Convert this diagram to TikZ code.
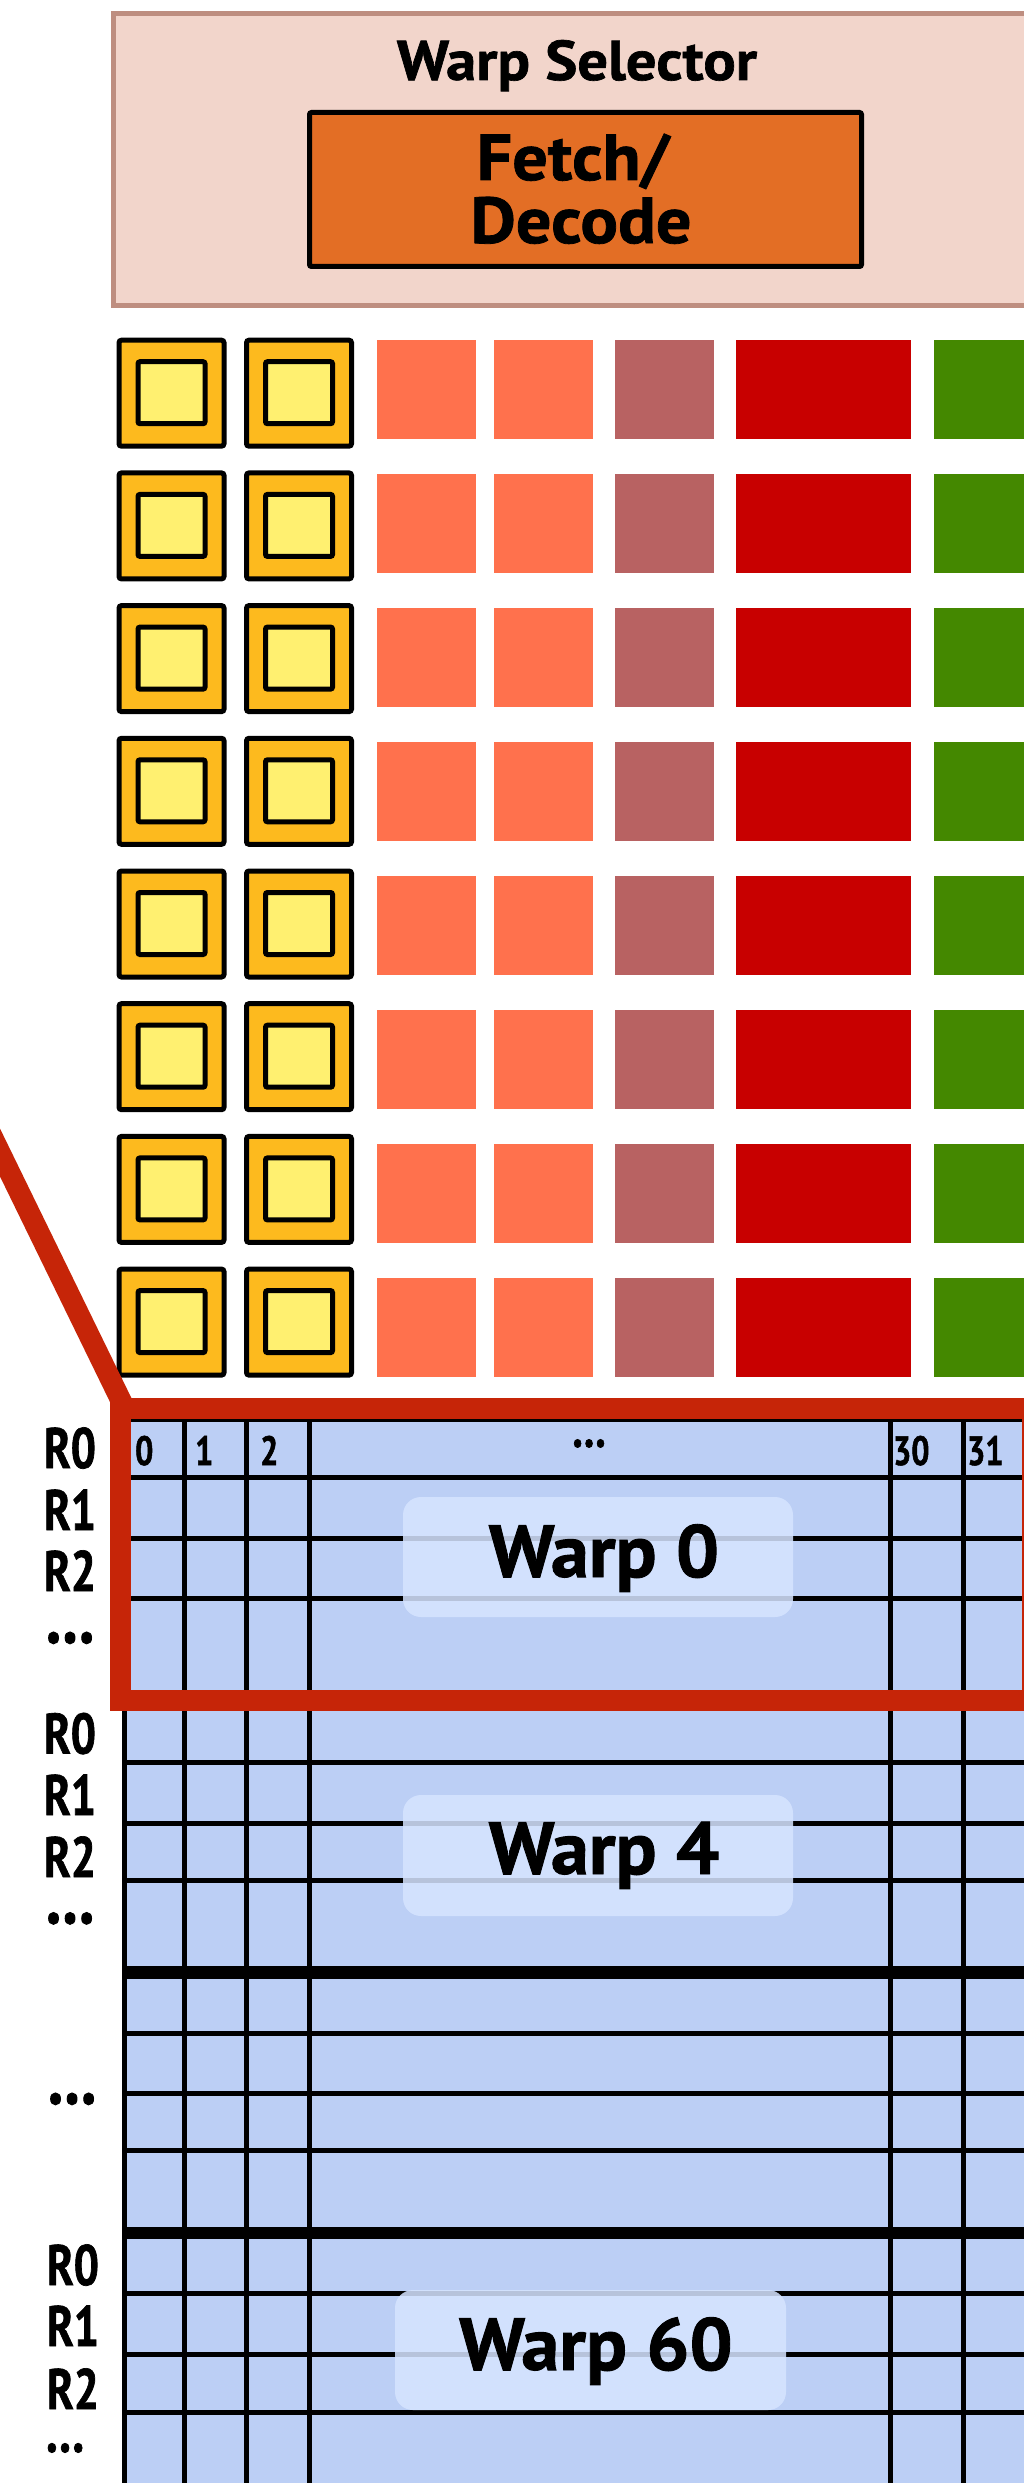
\documentclass[tikz,border=0pt]{standalone}
\usepackage{fontspec}
\newfontfamily\tfont{PT Sans}[FakeStretch=1.08, FakeBold=1.2]
\newfontfamily\wfont{PT Sans}[FakeStretch=1.03, FakeBold=1.2]
\newfontfamily\cfont{PT Sans}[FakeStretch=0.78, FakeBold=1.2]
\definecolor{selfill}{RGB}{242,213,203}
\definecolor{seldraw}{RGB}{190,142,128}
\definecolor{fetchfill}{RGB}{227,110,37}
\definecolor{coreout}{RGB}{253,186,30}
\definecolor{coreinner}{RGB}{255,240,112}
\definecolor{orangeu}{RGB}{255,113,77}
\definecolor{mauveu}{RGB}{184,98,98}
\definecolor{redu}{RGB}{200,0,0}
\definecolor{greenu}{RGB}{68,136,0}
\definecolor{callout}{RGB}{198,37,8}
\definecolor{regfill}{RGB}{188,207,245}
\definecolor{labfill}{RGB}{214,228,255}
\tikzset{
  corebox/.style={draw=black, line width=5, fill=coreout, rounded corners=2.5},
  coreinbox/.style={draw=black, line width=5, fill=coreinner, rounded corners=2},
  gridline/.style={draw=black, line width=5},
  thickline/.style={draw=black, line width=12.5},
  warplab/.style={fill=labfill, fill opacity=0.86, rounded corners=18},
  title/.style={inner sep=0, anchor=base, font=\tfont\bfseries\fontsize{56}{60}\selectfont},
  fetchtext/.style={inner sep=0, anchor=base, font=\tfont\bfseries\fontsize{65}{70}\selectfont},
  warptext/.style={inner sep=0, anchor=base, font=\wfont\bfseries\fontsize{74}{80}\selectfont},
  rlab/.style={inner sep=0, anchor=base, font=\cfont\bfseries\fontsize{57}{60}\selectfont},
  dotlab/.style={inner sep=0, anchor=base, font=\cfont\bfseries\fontsize{78}{78}\selectfont},
  digit/.style={inner sep=0, anchor=base west, font=\cfont\bfseries\fontsize{41}{42}\selectfont},
  calloutline/.style={draw=callout, line width=21}
}
\begin{document}
\begin{tikzpicture}[x=1pt,y=-1pt]
\useasboundingbox (0,0) rectangle (1024,2483);
\clip (0,0) rectangle (1024,2483);
\fill[white] (0,0) rectangle (1024,2483);

% warp selector
\draw[seldraw, line width=5, fill=selfill] (113.5,13.5) rectangle (1040,305.5);
\node[title] (ws) at (577,80) {Warp Selector};
\draw[draw=black, line width=5, fill=fetchfill, rounded corners=2] (309.5,112.5) rectangle (861.5,266.5);
\node[fetchtext] (fetch) at (573,180) {Fetch/};
\node[fetchtext] (decode) at (581,243) {Decode};

% execution units
\foreach \k in {0,...,7}{
  \pgfmathsetmacro{\yt}{337.7+132.7*\k}
  \pgfmathsetmacro{\ct}{340+134*\k}
  \foreach \dx in {0,127.5}{
    \draw[corebox] (119+\dx,\yt+2.5) rectangle (224+\dx,\yt+108.5);
    \draw[coreinbox] (138+\dx,\yt+24) rectangle (205+\dx,\yt+86);
  }
  \fill[orangeu] (377,\ct) rectangle (476,\ct+99);
  \fill[orangeu] (494,\ct) rectangle (593,\ct+99);
  \fill[mauveu] (615,\ct) rectangle (714,\ct+99);
  \fill[redu] (736,\ct) rectangle (911,\ct+99);
  \fill[greenu] (934,\ct) rectangle (1040,\ct+99);
}

% register file
\fill[regfill] (124.5,1419) rectangle (1040,2490);
\foreach \y in {1419,1477.5,1538,1598,1700,1762,1823,1880,2033,2093,2150,2293,2354,2412}
  \draw[gridline] (124.5,\y) -- (1040,\y);
\foreach \y in {1972.5,2233}
  \draw[thickline] (124.5,\y) -- (1040,\y);
\foreach \x in {124.5,184,246,309.5,890,963}
  \draw[gridline] (\x,1419) -- (\x,2490);

% column headers
\node[digit] (c0) at (135,1465) {0};
\node[digit] (c1) at (195,1465) {1};
\node[digit] (c2) at (260,1465) {2};
\node[digit, anchor=base, font=\cfont\bfseries\fontsize{54}{54}\selectfont] (cdots) at (589,1447) {…};
\node[digit] (c30) at (893,1465) {30};
\node[digit] (c31) at (967,1465) {31};

% warp labels
\fill[warplab] (403,1497) rectangle (793,1617);
\node[warptext] (w0) at (604,1577) {Warp 0};
\fill[warplab] (403,1795) rectangle (793,1916);
\node[warptext] (w4) at (604,1874) {Warp 4};
\fill[warplab] (395,2290) rectangle (786,2410);
\node[warptext] (w60) at (596,2370) {Warp 60};

% callout
\draw[calloutline] (-60,1029.5) -- (124.6,1408);
\draw[calloutline] (120.5,1408) rectangle (1032,1700.5);

% row labels
\node[rlab] (a0) at (70,1468) {R0};
\node[rlab] (a1) at (70,1530) {R1};
\node[rlab] (a2) at (70,1591) {R2};
\node[dotlab] (a3) at (70,1643) {…};
\node[rlab] (b0) at (70,1753.5) {R0};
\node[rlab] (b1) at (70,1815) {R1};
\node[rlab] (b2) at (70,1877) {R2};
\node[dotlab] (b3) at (70,1923.5) {…};
\node[dotlab] (m3) at (72,2104) {…};
\node[rlab] (d0) at (73,2285) {R0};
\node[rlab] (d1) at (73,2346) {R1};
\node[rlab] (d2) at (73,2409) {R2};
\node[dotlab, font=\cfont\bfseries\fontsize{62}{62}\selectfont] (d3) at (65,2452) {…};
\end{tikzpicture}
\end{document}
